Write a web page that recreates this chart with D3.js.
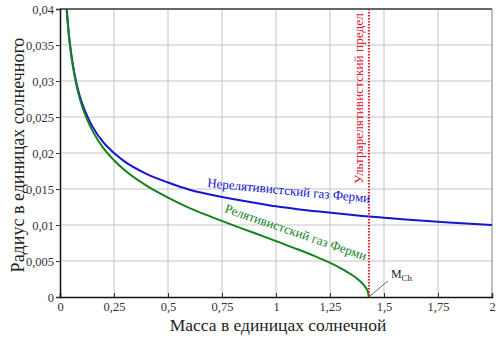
<!DOCTYPE html>
<html><head><meta charset="utf-8">
<script src="https://cdn.jsdelivr.net/npm/d3@7"></script>
<style>body{margin:0;background:#fff}svg{display:block}
text{font-family:"Liberation Serif","Tinos","DejaVu Serif","Noto Serif",serif}</style>
</head><body>
<svg id="c" width="500" height="338"></svg>
<script>
const xTicks = [0, 0.25, 0.5, 0.75, 1, 1.25, 1.5, 1.75, 2];
const yTicks = [0, 0.005, 0.01, 0.015, 0.02, 0.025, 0.03, 0.035, 0.04];
const massNonRel = [0.031,0.035,0.04,0.05,0.06,0.08,0.1,0.125,0.15,0.2,0.25,0.3,0.4,0.5,0.6,0.7,0.8,0.9,1.0,1.1,1.2,1.3,1.4,1.5,1.6,1.7,1.8,1.9,2.0];
const radiusNonRel = [0.0400,0.0385,0.0368,0.0342,0.0322,0.0292,0.0271,0.0252,0.0237,0.0215,0.0200,0.0188,0.0171,0.0159,0.0149,0.0142,0.0136,0.0131,0.0126,0.0122,0.01186,0.01155,0.01126,0.01101,0.01077,0.01056,0.01036,0.01017,0.0100];
const massRel = [0.031,0.035,0.04,0.05,0.06,0.08,0.1,0.125,0.15,0.2,0.25,0.3,0.4,0.5,0.6,0.7,0.8,0.9,1.0,1.1,1.2,1.3,1.35,1.38,1.4,1.415,1.425,1.43];
const radiusRel = [0.0399,0.03836,0.03664,0.0340,0.03196,0.02889,0.02671,0.02471,0.02311,0.02071,0.0190,0.01759,0.01546,0.0138,0.01234,0.01113,0.00998,0.00889,0.00776,0.00663,0.00541,0.00399,0.0031,0.00244,0.00188,0.00133,0.00076,0];
const chandraMass = 1.43;

const svg = d3.select("#c");
const x = d3.scaleLinear().domain([0,2]).range([60,492]);
const y = d3.scaleLinear().domain([0,0.04]).range([297,9]);
const fmt = v => String(v).replace(".", ",");
const serif = '"Liberation Serif","Tinos","DejaVu Serif","Noto Serif",serif';

// grid
svg.append("g").selectAll("line").data(xTicks.slice(1)).join("line")
  .attr("x1", d=>x(d)).attr("x2", d=>x(d)).attr("y1", y(0)).attr("y2", y(0.04))
  .attr("stroke", "#c4c4c4").attr("stroke-width", 1);
svg.append("g").selectAll("line").data(yTicks.slice(1)).join("line")
  .attr("y1", d=>y(d)).attr("y2", d=>y(d)).attr("x1", x(0)).attr("x2", x(2))
  .attr("stroke", "#c4c4c4").attr("stroke-width", 1);
svg.append("line").attr("x1", x(2)).attr("x2", x(2)).attr("y1", y(0)).attr("y2", y(0.04))
  .attr("stroke", "#9a9a9a").attr("stroke-width", 1);
svg.append("line").attr("x1", x(0)).attr("x2", x(2)).attr("y1", y(0.04)).attr("y2", y(0.04))
  .attr("stroke", "#666").attr("stroke-width", 2);

// axes
const xAxis = d3.axisBottom(x).tickValues(xTicks).tickFormat(fmt).tickSize(-4).tickPadding(6);
const gx = svg.append("g").attr("transform", `translate(0,${y(0)})`).call(xAxis);
const yAxis = d3.axisLeft(y).tickValues(yTicks).tickFormat(fmt).tickSize(4).tickPadding(2);
const gy = svg.append("g").attr("transform", `translate(${x(0)},0)`).call(yAxis);
[gx, gy].forEach(g => {
  g.attr("font-family", serif);
  g.select(".domain").attr("stroke", "#111").attr("stroke-width", 1.5);
  g.selectAll(".tick line").attr("stroke", "#333");
  g.selectAll(".tick text").attr("font-family", serif).attr("font-size", 12.5).attr("fill", "#333");
});
gx.selectAll(".tick text").attr("dy", "0.6em");

// curves
const line = d3.line().x(d=>x(d[0])).y(d=>y(d[1])).curve(d3.curveMonotoneX);
svg.append("path").datum(d3.zip(massNonRel, radiusNonRel)).attr("d", line)
  .attr("fill","none").attr("stroke","#1414d2").attr("stroke-width",2);
svg.append("path").datum(d3.zip(massRel, radiusRel)).attr("d", line)
  .attr("fill","none").attr("stroke","#14821e").attr("stroke-width",2);

// Chandrasekhar limit line
svg.append("line").attr("x1", x(chandraMass)).attr("x2", x(chandraMass))
  .attr("y1", y(0.04)).attr("y2", y(0))
  .attr("stroke", "#e0102a").attr("stroke-width", 2).attr("stroke-dasharray", "1.5,1.5");
svg.append("text").attr("transform", `translate(${x(chandraMass)-6},184) rotate(-90)`)
  .attr("font-family", serif).attr("font-size", 13.3).attr("fill", "#e0102a")
  .text("Ультрарелятивистский предел");

// M_Ch annotation
svg.append("line").attr("x1", x(chandraMass)).attr("y1", y(0))
  .attr("x2", x(chandraMass)+19).attr("y2", y(0)-16).attr("stroke", "#444").attr("stroke-width", 0.8);
const mt = svg.append("text").attr("x", x(chandraMass)+22).attr("y", y(0)-19)
  .attr("font-family", serif).attr("font-size", 12).attr("fill", "#222");
mt.append("tspan").text("M");
mt.append("tspan").attr("font-size", 9).attr("dy", 3).text("Ch");

// curve labels
svg.append("text").attr("transform", `translate(207,187) rotate(5.5)`)
  .attr("font-family", serif).attr("font-size", 13).attr("fill", "#1414d2")
  .text("Нерелятивистский газ Ферми");
svg.append("text").attr("transform", `translate(224,212) rotate(19)`)
  .attr("font-family", serif).attr("font-size", 13).attr("fill", "#14821e")
  .text("Релятивистский газ Ферми");

// axis titles
svg.append("text").attr("x", 278).attr("y", 331).attr("text-anchor", "middle")
  .attr("font-family", serif).attr("font-size", 17.5).attr("fill", "#222")
  .text("Масса в единицах солнечной");
svg.append("text").attr("transform", `translate(24,155) rotate(-90)`).attr("text-anchor", "middle")
  .attr("font-family", serif).attr("font-size", 18).attr("fill", "#222")
  .text("Радиус в единицах солнечного");
</script>
</body></html>
